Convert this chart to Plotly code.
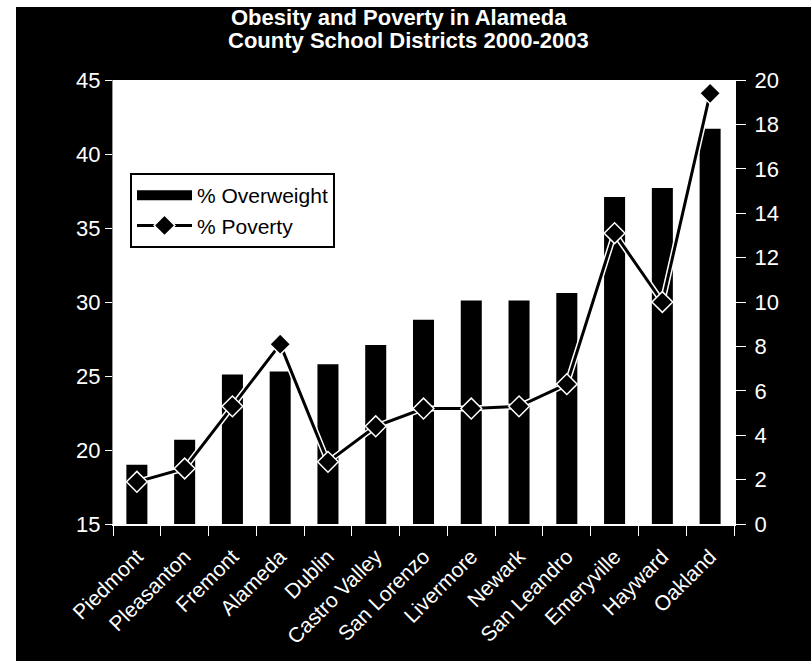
import plotly.graph_objects as go

districts = ["Piedmont", "Pleasanton", "Fremont", "Alameda", "Dublin", "Castro Valley",
             "San Lorenzo", "Livermore", "Newark", "San Leandro", "Emeryville", "Hayward", "Oakland"]
pct_overweight = [19.0, 20.7, 25.1, 25.3, 25.8, 27.1, 28.8, 30.1, 30.1, 30.6, 37.1, 37.7, 41.7]
pct_poverty = [1.9, 2.5, 5.3, 8.1, 2.8, 4.4, 5.2, 5.2, 5.3, 6.3, 13.1, 10.0, 19.4]

title_lines = ["Obesity and Poverty in Alameda", "County School Districts 2000-2003"]
font_family = "Arial, Liberation Sans, sans-serif"

W, H = 811, 661
L, R, T, B = 113, 77, 80, 137
PW, PH = W - L - R, H - T - B


def px_x(px):
    return (px - L) / PW


def px_y(py):
    return (H - B - py) / PH


fig = go.Figure()
fig.add_trace(go.Bar(
    x=districts, y=pct_overweight, name="% Overweight", showlegend=False,
    marker=dict(color="black", line=dict(width=0)), yaxis="y",
))
# legend-only entry for the bars (wide black block)
fig.add_trace(go.Scatter(
    x=[None], y=[None], name="% Overweight", mode="lines",
    line=dict(color="black", width=15), yaxis="y",
))
# white halo under the poverty line
fig.add_trace(go.Scatter(
    x=districts, y=pct_poverty, yaxis="y2", mode="lines",
    line=dict(color="white", width=6), showlegend=False, hoverinfo="skip",
))
fig.add_trace(go.Scatter(
    x=districts, y=pct_poverty, name="% Poverty", yaxis="y2", mode="lines+markers",
    line=dict(color="black", width=3),
    marker=dict(symbol="diamond", size=16, color="black", line=dict(color="white", width=1.5)),
))

annotations = [
    dict(text="<b>" + title_lines[0] + "</b>", xref="paper", yref="paper",
         x=px_x(399), y=px_y(17), xanchor="center", yanchor="middle", showarrow=False,
         font=dict(family=font_family, size=22, color="white")),
    dict(text="<b>" + title_lines[1] + "</b>", xref="paper", yref="paper",
         x=px_x(408), y=px_y(40), xanchor="center", yanchor="middle", showarrow=False,
         font=dict(family=font_family, size=22, color="white")),
]

shapes = [
    dict(type="rect", xref="paper", yref="paper", x0=px_x(0), x1=px_x(W), y0=px_y(0), y1=px_y(7),
         fillcolor="white", line=dict(width=0), layer="above"),
    dict(type="rect", xref="paper", yref="paper", x0=px_x(0), x1=px_x(16), y0=px_y(0), y1=px_y(H),
         fillcolor="white", line=dict(width=0), layer="below"),
]

fig.update_layout(
    width=W, height=H,
    margin=dict(l=L, r=R, t=T, b=B),
    paper_bgcolor="black", plot_bgcolor="white",
    font=dict(family=font_family, color="white", size=17),
    bargap=0.56,
    showlegend=True,
    legend=dict(x=px_x(130), y=px_y(173), xanchor="left", yanchor="top",
                bgcolor="white", bordercolor="black", borderwidth=2,
                font=dict(family=font_family, size=21, color="black"),
                tracegroupgap=0, itemwidth=55),
    annotations=annotations,
    shapes=shapes,
    xaxis=dict(range=[-0.5, len(districts) - 0.5], autorange=False,
               tickangle=-45, ticks="outside", ticklen=10, tickcolor="white",
               tickfont=dict(size=21, color="white"), showline=True, linecolor="white",
               linewidth=2, showgrid=False, tickson="boundaries", ticklabelstandoff=10,
               automargin=False),
    yaxis=dict(range=[15, 45], dtick=5, ticks="outside", ticklen=7, tickcolor="white",
               showline=True, linecolor="#999999", linewidth=1, showgrid=False,
               tickfont=dict(size=22, color="white"), zeroline=False, automargin=False),
    yaxis2=dict(range=[0, 20], dtick=2, overlaying="y", side="right", ticks="outside",
                ticklen=10, tickcolor="white", showline=True, linecolor="white", linewidth=2,
                showgrid=False, tickfont=dict(size=22, color="white"), zeroline=False,
                ticklabelstandoff=4, automargin=False),
)

fig.write_html("out.html")
